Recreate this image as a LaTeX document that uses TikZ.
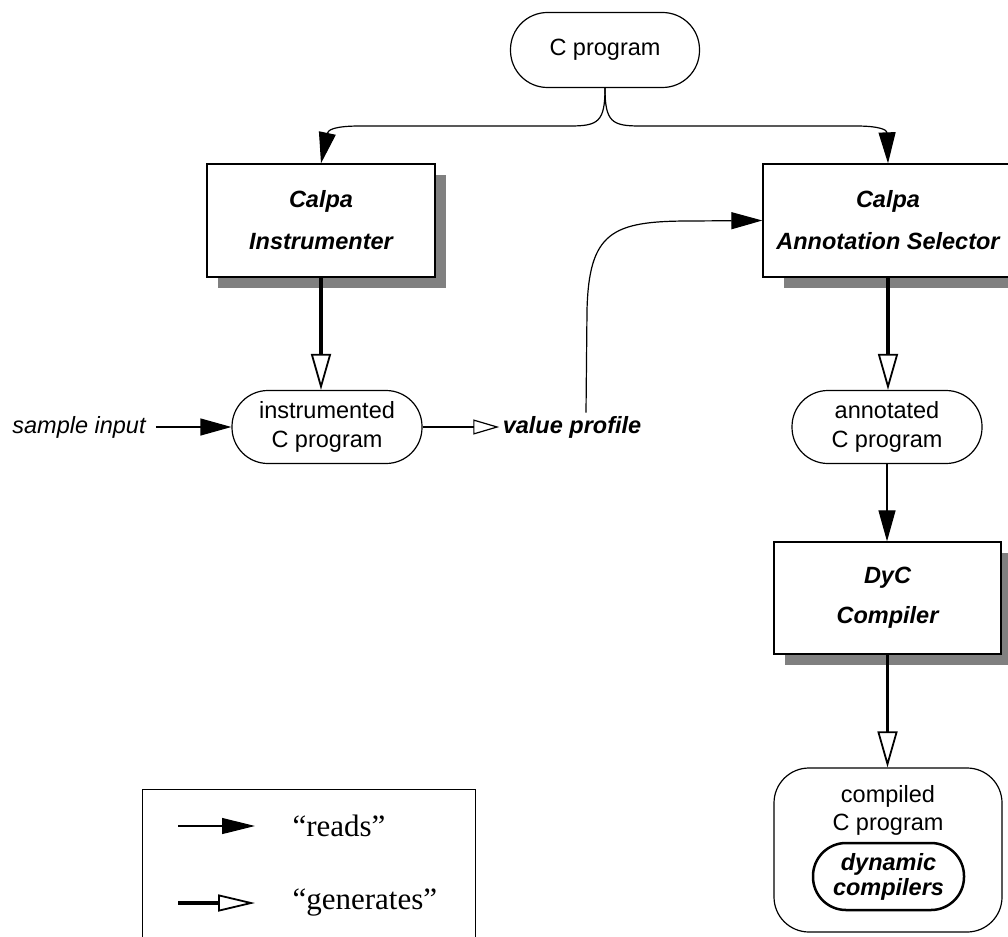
\documentclass[tikz,border=0pt]{standalone}
\usepackage{fontspec}
\setmainfont{Liberation Serif}
\setsansfont{Liberation Sans}
\usetikzlibrary{arrows.meta,shadows}

\definecolor{shadowgray}{RGB}{128,128,128}

\tikzset{
  every node/.style={font=\sffamily\fontsize{23.5}{29}\selectfont},
  prog/.style={draw, line width=1.2pt, rounded corners=36pt, align=center,
    inner sep=0pt, minimum width=190pt, minimum height=73pt},
  tool/.style={draw, line width=1.3pt, fill=white, align=center,
    minimum width=228pt, minimum height=113pt,
    font=\sffamily\bfseries\itshape\fontsize{23.5}{42}\selectfont,
    general shadow={fill=shadowgray, shadow xshift=#1pt, shadow yshift=-11pt}},
  tool/.default=11,
  reads/.style={line width=1.2pt, -{Triangle[length=31pt,width=17pt]}},
  gens/.style={line width=3.2pt, -{Triangle[open,length=36pt,width=20pt,line width=1.8pt]}},
  smallgens/.style={line width=1.2pt, -{Triangle[open,length=26pt,width=15pt]}},
}

\begin{document}
\begin{tikzpicture}[x=1pt,y=-1pt]
   \clip (0,0) rectangle (1008,936);

   \node[prog, minimum width=189pt, minimum height=75pt, rounded corners=37pt] (cprog) at (605,50) {C program};

   \node[tool] (instrumenter) at (321,220.5) {Calpa\\Instrumenter};
   \node[tool=21, minimum width=250pt] (selector) at (888,220.5) {Calpa\\Annotation Selector};

   \draw[reads] (cprog.south) .. controls (605,122) and (598,126) .. (570,126) -- (360,126)
      .. controls (334,126) and (328,130) .. (instrumenter.north);
   \draw[reads] (cprog.south) .. controls (605,122) and (612,126) .. (640,126) -- (856,126)
      .. controls (880,126) and (887,130) .. (selector.north);

   \node[prog] (instrprog) at (327,427) {instrumented\\C program};
   \node[inner xsep=10pt, font=\sffamily\itshape\fontsize{23.5}{29}\selectfont] (sample) at (79,427) {sample input};
   \node[font=\sffamily\bfseries\itshape\fontsize{23.5}{29}\selectfont] (profile) at (572,427) {value profile};

   \draw[gens] (instrumenter.south) -- (instrumenter.south |- instrprog.north);
   \draw[reads] (sample.east) -- (instrprog.west);
   \draw[smallgens] (instrprog.east) -- (profile.west);
   \draw[reads] ([xshift=14pt]profile.north) -- (587,310) .. controls (589,232) and (612,221) .. (690,221) -- (selector.west);

   \node[prog] (annotprog) at (887,427) {annotated\\C program};
   \draw[gens] (selector.south) -- (selector.south |- annotprog.north);

   \node[tool, minimum width=227pt, minimum height=112pt, font=\sffamily\bfseries\itshape\fontsize{23.5}{40}\selectfont] (dyc) at (887.5,598) {DyC\\Compiler};
   \draw[reads] (annotprog.south) -- (annotprog.south |- dyc.north);

   \node[prog, minimum width=228pt, minimum height=164pt, rounded corners=35pt] (compiled) at (888,850) {};
   \node[font=\sffamily\fontsize{23.5}{28}\selectfont, align=center] (compiledtxt) at (888,810) {compiled\\C program};
   \node[prog, line width=2.5pt, minimum width=151pt, minimum height=67pt, rounded corners=33pt,
      font=\sffamily\bfseries\itshape\fontsize{23.5}{25}\selectfont] (dyncomp) at (888.5,876.5) {dynamic\\compilers};
   \draw[gens] (dyc.south) -- (dyc.south |- compiled.north);

   \node[draw, line width=1.2pt, anchor=north west, minimum width=333pt, minimum height=170pt] (legend) at (142,789) {};
   \coordinate (reads0) at (178,826);
   \coordinate (reads1) at (255,826);
   \coordinate (gens0) at (178,903);
   \coordinate (gens1) at (255,903);
   \draw[line width=1.2pt, -{Triangle[length=33pt,width=16pt]}] (reads0) -- (reads1);
   \draw[line width=3.2pt, -{Triangle[open,length=37pt,width=17pt,line width=1.8pt]}] (gens0) -- (gens1);
   \node[anchor=west, font=\rmfamily\fontsize{31}{35}\selectfont] (readstxt) at (289,826) {“reads”};
   \node[anchor=west, font=\rmfamily\fontsize{31}{35}\selectfont] (genstxt) at (289,903) {“generates”};
\end{tikzpicture}
\end{document}
